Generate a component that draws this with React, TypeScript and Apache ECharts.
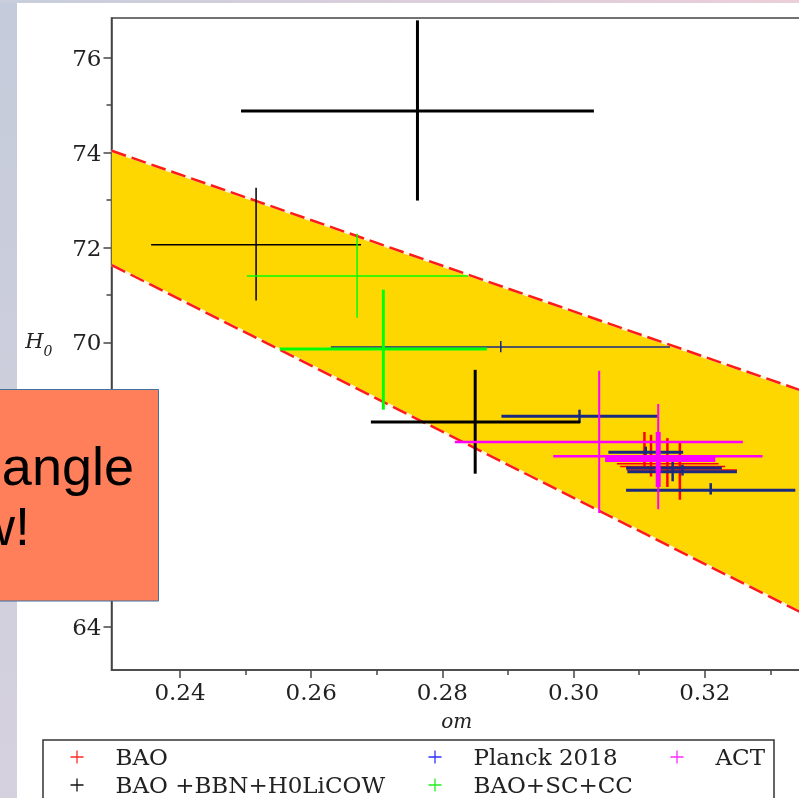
import React, { useEffect, useRef } from "react";
import * as echarts from "echarts";

// ---- axis ranges and ticks ----
const X_MIN = 0.22956;
const X_MAX = 0.34;
const Y_MIN = 63.09;
const Y_MAX = 76.84;
const xMajorTicks = [0.24, 0.26, 0.28, 0.3, 0.32, 0.34];
const xMinorTicks = [0.25, 0.27, 0.29, 0.31, 0.33];
const xTickLabels = [0.24, 0.26, 0.28, 0.3, 0.32];
const yMajorTicks = [64, 66, 68, 70, 72, 74, 76];
const yMinorTicks = [65, 67, 69, 71, 73, 75];
// labels 66 and 68 are hidden behind the rectangle in the reference
const yTickLabels = [64, 70, 72, 74, 76];

// ---- band (between two dashed lines) ----
const bandOm = [0.2296, 0.335];
const bandUpper = [74.04, 68.97];
const bandLower = [71.63, 64.28];

// ---- error crosses: [om, omLow, omHigh, H0, H0Low, H0High] ----
const baoPoints = [
  [0.3108, 0.3063, 0.3162, 67.68, 67.38, 68.11],
  [0.3118, 0.3066, 0.3221, 67.44, 67.17, 68.05],
  [0.3143, 0.3081, 0.3249, 67.31, 66.95, 67.98],
  [0.3162, 0.3071, 0.3231, 67.38, 66.68, 67.88],
];
const planckThinPoints = [[0.2889, 0.263, 0.3147, 69.9, 69.79, 70.03]];
const planckThickPoints = [
  [0.3009, 0.289, 0.3128, 68.44, 68.3, 68.58],
  [0.311, 0.3053, 0.3167, 67.68, 67.63, 67.8],
  [0.3151, 0.308, 0.3226, 67.35, 67.07, 67.49],
  [0.3166, 0.3082, 0.3249, 67.27, 67.19, 67.42],
  [0.3209, 0.308, 0.3338, 66.88, 66.79, 67.03],
];
const bbnThickPoints = [
  [0.2762, 0.2493, 0.3031, 74.88, 72.99, 76.79],
  [0.285, 0.2691, 0.301, 68.32, 67.23, 69.42],
];
const bbnThinPoints = [[0.2516, 0.2356, 0.2676, 72.06, 70.88, 73.26]];
const scccThinPoints = [[0.267, 0.2502, 0.2839, 71.4, 70.52, 72.29]];
const scccThickPoints = [[0.271, 0.2552, 0.2868, 69.86, 68.58, 71.11]];
const actThinPoints = [
  [0.3039, 0.2819, 0.3258, 67.9, 66.4, 69.4],
  [0.3129, 0.2969, 0.3288, 67.6, 66.48, 68.7],
];
const actThickPoints = [[0.3129, 0.3048, 0.3216, 67.53, 66.95, 68.11]];

const FONT = "DejaVu Serif";
const PLUS = "path://M9,0h2v9h9v2h-9v9h-2v-9h-9v-2h9z";

function crossSeries(name: string, data: number[][], color: string, hW: number, vW: number, z: number) {
  return {
    type: "custom",
    name,
    data,
    z,
    itemStyle: { color },
    encode: { x: [0, 1, 2], y: [3, 4, 5] },
    renderItem: (params: any, api: any) => {
      const om = api.value(0);
      const lo = api.value(1);
      const hi = api.value(2);
      const h = api.value(3);
      const hl = api.value(4);
      const hh = api.value(5);
      const a = api.coord([lo, h]);
      const b = api.coord([hi, h]);
      const c = api.coord([om, hl]);
      const d = api.coord([om, hh]);
      return {
        type: "group",
        children: [
          { type: "line", shape: { x1: a[0], y1: a[1], x2: b[0], y2: b[1] }, style: { stroke: color, lineWidth: hW } },
          { type: "line", shape: { x1: c[0], y1: c[1], x2: d[0], y2: d[1] }, style: { stroke: color, lineWidth: vW } },
        ],
      };
    },
  };
}

function legendAt(name: string, iconCenterX: number, top: number, iconColor: string) {
  return {
    data: [{ name, itemStyle: { color: iconColor } }],
    left: iconCenterX - 6.5,
    top,
    padding: 0,
    icon: PLUS,
    itemWidth: 13,
    itemHeight: 13,
    orient: "horizontal",
    textStyle: { fontFamily: FONT, fontSize: 23, color: "#222", lineHeight: 24, padding: [0, 0, 0, 27] },
  };
}

export default function App() {
  const ref = useRef<HTMLDivElement>(null);
  useEffect(() => {
    if (!ref.current) return;
    const chart = echarts.init(ref.current, null, { renderer: "svg" });
    const axisColor = "#444";
    const dash = { width: 2.5, type: [15, 6] as number[] };
    const option: any = {
      animation: false,
      textStyle: { fontFamily: FONT },
      grid: {
        left: 111.5,
        top: 18,
        width: 724.5,
        height: 652,
        show: true,
        borderColor: axisColor,
        borderWidth: 1.5,
        backgroundColor: "#fff",
        containLabel: false,
        outerBoundsMode: "none",
      },
      xAxis: [
        {
          type: "value",
          min: X_MIN,
          max: X_MAX,
          position: "bottom",
          axisLine: { show: true, onZero: false, lineStyle: { color: axisColor, width: 1.5 } },
          axisTick: { show: true, customValues: xMajorTicks, length: 8, lineStyle: { color: axisColor, width: 1.5 } },
          axisLabel: {
            customValues: xTickLabels,
            formatter: (v: number) => v.toFixed(2),
            fontFamily: FONT,
            fontSize: 23,
            color: "#222",
            margin: 10,
          },
          splitLine: { show: false },
          name: "om",
          nameLocation: "middle",
          nameGap: 41,
          nameTextStyle: { fontFamily: FONT, fontStyle: "italic", fontSize: 20, color: "#222", padding: [0, 34, 0, 0] },
        },
        {
          type: "value",
          min: X_MIN,
          max: X_MAX,
          position: "bottom",
          axisLine: { show: false, onZero: false },
          axisTick: { show: true, customValues: xMinorTicks, length: 5, lineStyle: { color: axisColor, width: 1.5 } },
          axisLabel: { show: false },
          splitLine: { show: false },
        },
      ],
      yAxis: [
        {
          type: "value",
          min: Y_MIN,
          max: Y_MAX,
          position: "left",
          axisLine: { show: true, onZero: false, lineStyle: { color: axisColor, width: 1.5 } },
          axisTick: { show: true, customValues: yMajorTicks, length: 8, lineStyle: { color: axisColor, width: 1.5 } },
          axisLabel: { customValues: yTickLabels, fontFamily: FONT, fontSize: 23, color: "#222", margin: 10 },
          splitLine: { show: false },
          name: "{h|H}{s|0}",
          nameLocation: "middle",
          nameRotate: 0,
          nameGap: 59,
          nameTextStyle: {
            color: "#222",
            rich: {
              h: { fontFamily: FONT, fontStyle: "italic", fontSize: 21, lineHeight: 20, verticalAlign: "top", color: "#222" },
              s: { fontFamily: FONT, fontStyle: "italic", fontSize: 14, lineHeight: 28, verticalAlign: "bottom", color: "#222" },
            },
          },
        },
        {
          type: "value",
          min: Y_MIN,
          max: Y_MAX,
          position: "left",
          axisLine: { show: false, onZero: false },
          axisTick: { show: true, customValues: yMinorTicks, length: 5, lineStyle: { color: axisColor, width: 1.5 } },
          axisLabel: { show: false },
          splitLine: { show: false },
        },
      ],
      legend: [
        legendAt("BAO", 77, 745, "#ff2a2a"),
        legendAt("Planck 2018", 435, 745, "#2f2fff"),
        legendAt("ACT", 677, 745, "#ff2aff"),
        legendAt("BAO +BBN+H0LiCOW", 77, 773, "#111111"),
        legendAt("BAO+SC+CC", 435, 773, "#22ee22"),
      ],
      series: [
        {
          type: "custom",
          name: "band",
          silent: true,
          z: 1,
          data: bandOm.map((o, i) => [o, bandUpper[i], bandLower[i]]),
          encode: { x: 0, y: [1, 2] },
          renderItem: (params: any, api: any) => {
            if (params.dataIndex !== 0) return null;
            const upper = bandOm.map((o, i) => api.coord([o, bandUpper[i]]));
            const lower = bandOm.map((o, i) => api.coord([o, bandLower[i]])).reverse();
            return { type: "polygon", shape: { points: upper.concat(lower) }, style: { fill: "#ffd700" } };
          },
        },
        {
          type: "line",
          name: "band upper base",
          silent: true,
          z: 2,
          symbol: "none",
          data: bandOm.map((o, i) => [o, bandUpper[i]]),
          lineStyle: { color: "#fff6e0", width: 2.5 },
        },
        {
          type: "line",
          name: "band lower base",
          silent: true,
          z: 2,
          symbol: "none",
          data: bandOm.map((o, i) => [o, bandLower[i]]),
          lineStyle: { color: "#fff6e0", width: 2.5 },
        },
        {
          type: "line",
          name: "band upper",
          silent: true,
          z: 2,
          symbol: "none",
          data: bandOm.map((o, i) => [o, bandUpper[i]]),
          lineStyle: { color: "#ff1a1a", ...dash },
        },
        {
          type: "line",
          name: "band lower",
          silent: true,
          z: 2,
          symbol: "none",
          data: bandOm.map((o, i) => [o, bandLower[i]]),
          lineStyle: { color: "#ff1a1a", ...dash },
        },
        crossSeries("BAO", baoPoints, "#ff0000", 1.5, 2.5, 3),
        crossSeries("Planck 2018", planckThinPoints, "#1a2a80", 1.5, 1.5, 4),
        crossSeries("Planck 2018", planckThickPoints, "#1a2a80", 3, 2.5, 4),
        crossSeries("BAO +BBN+H0LiCOW", bbnThickPoints, "#000000", 3, 3, 5),
        crossSeries("BAO +BBN+H0LiCOW", bbnThinPoints, "#000000", 1.5, 1.5, 5),
        crossSeries("BAO+SC+CC", scccThinPoints, "#00ff00", 1.5, 1.5, 6),
        crossSeries("BAO+SC+CC", scccThickPoints, "#00ff00", 3, 3, 6),
        crossSeries("ACT", actThinPoints, "#ff00ff", 2.5, 2, 7),
        crossSeries("ACT", actThickPoints, "#ff00ff", 5, 5, 7),
      ],
      graphic: [
        {
          type: "rect",
          z: 0,
          shape: { x: 0, y: 0, width: 17, height: 798 },
          style: {
            fill: new echarts.graphic.LinearGradient(0, 0, 0, 1, [
              { offset: 0, color: "#c4cbda" },
              { offset: 1, color: "#d6d1de" },
            ]),
          },
        },
        {
          type: "rect",
          z: 0,
          shape: { x: 0, y: 0, width: 799, height: 3 },
          style: {
            fill: new echarts.graphic.LinearGradient(0, 0, 1, 0, [
              { offset: 0, color: "#c8cedc" },
              { offset: 1, color: "#ebcfd9" },
            ]),
          },
        },
        {
          type: "rect",
          z: 1,
          shape: { x: 43, y: 740, width: 731, height: 80 },
          style: { fill: "#ffffff", stroke: "#333", lineWidth: 1.5 },
        },
        {
          type: "group",
          z: 100,
          children: [
            {
              type: "rect",
              z: 100,
              shape: { x: -2, y: 389.5, width: 160.5, height: 211.5 },
              style: { fill: "#ff7f5b", stroke: "#41719c", lineWidth: 1 },
            },
            {
              type: "text",
              z: 101,
              x: 134,
              y: 466,
              style: { text: "angle", fill: "#000", font: "54px 'Liberation Sans'", textAlign: "right", textVerticalAlign: "middle" },
            },
            {
              type: "text",
              z: 101,
              x: 30,
              y: 526,
              style: { text: "w!", fill: "#000", font: "54px 'Liberation Sans'", textAlign: "right", textVerticalAlign: "middle" },
            },
          ],
        },
      ],
    };
    chart.setOption(option);
    return () => chart.dispose();
  }, []);
  return <div ref={ref} style={{ position: "fixed", left: 0, top: 0, width: 799, height: 798 }} />;
}
